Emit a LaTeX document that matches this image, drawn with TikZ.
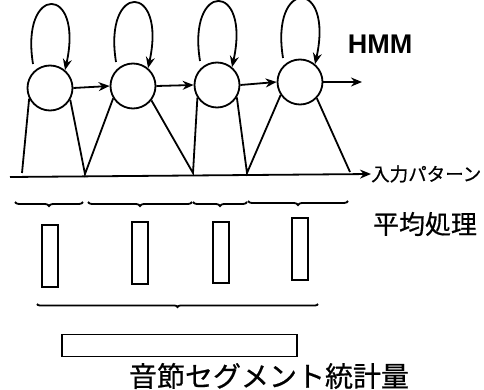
\documentclass[tikz,border=0pt]{standalone}
\usepackage{fontspec}
\setmainfont{Liberation Sans}
\newfontfamily\jp[FakeBold=0.6]{Noto Sans CJK JP}
\usetikzlibrary{arrows.meta,decorations.pathreplacing,calc}
\begin{document}
\begin{tikzpicture}[x=1pt,y=-1pt,
  ln/.style={line width=1.8pt},
  st/.style={ln,draw,circle,minimum size=45pt,inner sep=0pt},
  bar/.style={draw,line width=1.4pt,inner sep=0pt,minimum width=16pt},
  arr/.style={ln,-{Stealth[length=11pt,width=9pt]}},
  brc/.style={line width=1.8pt,decorate,decoration={brace,amplitude=4pt}},
  loopc/.style={arr}
]
\useasboundingbox (0,0) rectangle (484,390);
% states
\node[st] (c1) at (50,88) {};
\node[st] (c2) at (133,86) {};
\node[st] (c3) at (217,85) {};
\node[st] (c4) at (300,82) {};
% self loops
\foreach \c in {c1,c2,c3,c4}{
  \draw[loopc] ($(\c)+(-17,-24)$) .. controls ($(\c)+(-30,-104)$) and ($(\c)+(34,-104)$) .. (\c.50);
}
% transitions
\draw[arr] (c1.east) -- (c2.west);
\draw[arr] (c2.east) -- (c3.west);
\draw[arr] (c3.east) -- (c4.west);
\coordinate (out) at (362,82);
\draw[arr] (c4.east) -- (out);
% alignment lines
\coordinate (v0) at (22,173);
\coordinate (v1) at (85,174);
\coordinate (v2) at (193,173);
\coordinate (v3) at (247,173);
\coordinate (v4) at (350,172);
\draw[ln] (c1.207) -- (v0);
\draw[ln] (c1.330) -- (v1) -- (c2.212);
\draw[ln] (c2.322) -- (v2) -- (c3.213);
\draw[ln] (c3.328) -- (v3) -- (c4.214);
\draw[ln] (c4.316) -- (v4);
% input axis
\coordinate (a0) at (10,177);
\node[anchor=west,inner sep=0pt,font=\jp\fontsize{18.5}{19}\selectfont] (inp) at (371,174) {入力パターン};
\draw[arr] (a0) -- (inp.west);
% HMM label
\node[font=\bfseries\fontsize{27}{28}\selectfont,inner sep=0pt] (hmm) at (380,44) {HMM};
% braces
\draw[brc] (83,202) -- (15,202);
\draw[brc] (192,202) -- (88,202);
\draw[brc] (247,202) -- (193,202);
\draw[brc] (348,201) -- (248,201);
% averaged bars
\node[bar,minimum height=62pt] (r1) at (50,256) {};
\node[bar,minimum height=62pt] (r2) at (140,253) {};
\node[bar,minimum height=61pt] (r3) at (221,252.5) {};
\node[bar,minimum height=62pt] (r4) at (300,249) {};
\node[font=\jp\fontsize{26}{27}\selectfont,inner sep=0pt] (avg) at (425,224) {平均処理};
% big brace
\draw[brc,decoration={brace,amplitude=3pt}] (318,304) -- (37,304);
% segment statistic
\node[draw,line width=1.4pt,inner sep=0pt,minimum width=235pt,minimum height=22pt] (seg) at (179.5,345.5) {};
\node[font=\jp\fontsize{28}{29}\selectfont,inner sep=0pt] (segl) at (269,376) {音節セグメント統計量};
\end{tikzpicture}
\end{document}
